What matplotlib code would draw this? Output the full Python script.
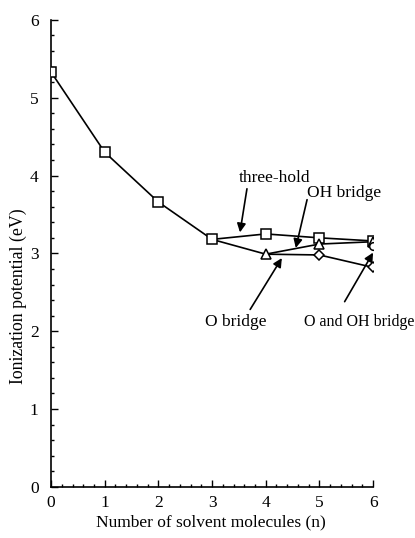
import matplotlib.pyplot as plt
from matplotlib.ticker import MultipleLocator

plt.rcParams['font.family'] = ['Liberation Serif', 'DejaVu Serif']

# ionization potential vs. number of solvent molecules
n_main = [0, 1, 2, 3, 4, 5, 6]
ip_main = [5.33, 4.30, 3.66, 3.18, 3.25, 3.20, 3.16]

# OH bridge branch (starts from the n=3 cluster)
n_oh = [3, 4, 5, 6]
ip_oh = [3.18, 2.99, 3.12, 3.15]

# O bridge branch
n_o = [4, 5, 6]
ip_o = [2.99, 2.98, 2.82]

# O and OH bridge, n=6 only
n_ooh = [6]
ip_ooh = [3.10]

fig = plt.figure(figsize=(4.15, 5.38), dpi=100)
ax = fig.add_axes([0.123, 0.095, 0.776, 0.868])

lw = 1.2
ax.plot(n_oh, ip_oh, color='k', lw=lw, zorder=2)
ax.plot(n_oh[1:], ip_oh[1:], ls='none', marker='^', ms=6.5, mfc='white', mec='k', mew=1.1, zorder=4)
ax.plot(n_o, ip_o, color='k', lw=lw, zorder=2)
ax.plot(n_o[1:], ip_o[1:], ls='none', marker='D', ms=5.5, mfc='white', mec='k', mew=1.1, zorder=4)
ax.plot(n_main, ip_main, color='k', lw=lw, marker='s', ms=7, mfc='white', mec='k', mew=1.1, zorder=3)
ax.plot(n_ooh, ip_ooh, ls='none', marker='o', ms=5.5, mfc='white', mec='k', mew=1.1, zorder=5)

ax.set_xlim(0, 6)
ax.set_ylim(0, 6)
ax.xaxis.set_major_locator(MultipleLocator(1))
ax.yaxis.set_major_locator(MultipleLocator(1))
ax.xaxis.set_minor_locator(MultipleLocator(0.2))
ax.yaxis.set_minor_locator(MultipleLocator(0.2))
ax.tick_params(which='both', direction='in', width=1.0, labelsize=12.5)
ax.tick_params(which='major', length=5)
ax.tick_params(which='minor', length=2.5)
ax.tick_params(axis='x', pad=5.5)
ax.tick_params(axis='y', pad=9)
for s in ['top', 'right']:
    ax.spines[s].set_visible(False)
for s in ['left', 'bottom']:
    ax.spines[s].set_linewidth(1.2)

fig.text(0.508, 0.029, 'Number of solvent molecules (n)', ha='center', va='center', fontsize=12.5)
fig.text(0.043, 0.45, 'Ionization potential (eV)', ha='center', va='center', rotation=90, fontsize=12.8)

arrow = dict(arrowstyle='-|>', color='k', lw=1.2, mutation_scale=13, shrinkA=0, shrinkB=0)
ax.text(4.17, 3.97, 'three-hold', ha='center', va='center', fontsize=12.5)
ax.annotate('', xy=(3.52, 3.27), xytext=(3.65, 3.83), arrowprops=arrow)
ax.text(5.46, 3.78, 'OH bridge', ha='center', va='center', fontsize=12.5)
ax.annotate('', xy=(4.56, 3.07), xytext=(4.77, 3.69), arrowprops=arrow)
ax.text(3.44, 2.12, 'O bridge', ha='center', va='center', fontsize=12.5)
ax.annotate('', xy=(4.30, 2.94), xytext=(3.71, 2.28), arrowprops=arrow)
ax.text(5.74, 2.12, 'O and OH bridge', ha='center', va='center', fontsize=11.5, clip_on=False)
ax.annotate('', xy=(6.0, 3.01), xytext=(5.47, 2.38), arrowprops=arrow, annotation_clip=False)

plt.savefig('out.png', dpi=100)
